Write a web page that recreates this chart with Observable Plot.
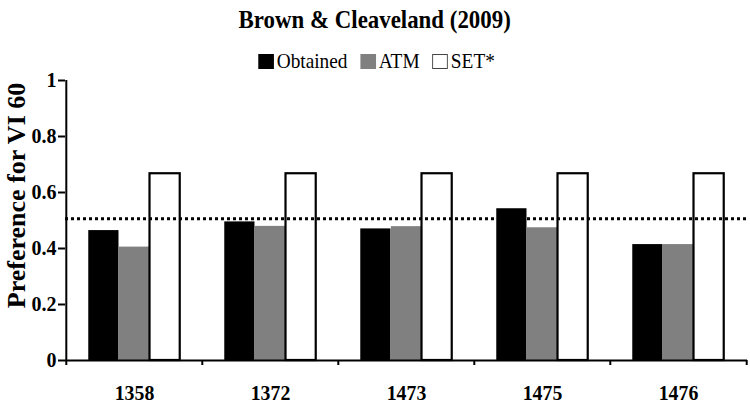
<!DOCTYPE html>
<html>
<head>
<meta charset="utf-8">
<script src="https://cdn.jsdelivr.net/npm/d3@7"></script>
<script src="https://cdn.jsdelivr.net/npm/@observablehq/plot@0.6"></script>
<style>
  html, body { margin: 0; padding: 0; background: #fff; }
  #wrap { width: 750px; height: 405px; position: relative; overflow: hidden; font-family: "Liberation Serif", "Times New Roman", serif; }
  #title { height: 40px; box-sizing: border-box; padding-top: 6px; text-align: center; font-weight: bold; font-size: 26px; line-height: 28px; color: #000; }
  #title span { display: inline-block; transform: scaleX(0.88); transform-origin: center; }
  #legend { height: 32px; margin-bottom: -8px; position: relative; z-index: 1; display: flex; justify-content: center; align-items: flex-end; font-size: 21px; line-height: 21px; color: #000; padding-left: 4px; box-sizing: border-box; }
  #legend .inner { display: flex; align-items: flex-end; gap: 14px; transform: scaleX(0.92); transform-origin: center; }
  #legend .item { display: flex; align-items: flex-end; gap: 3px; }
  #legend .sw { width: 17px; height: 15px; box-sizing: border-box; margin-bottom: 3px; }
  #chart svg { display: block; }
  #chart svg text { font-family: "Liberation Serif", "Times New Roman", serif; font-weight: bold; fill: #000; }
  #chart g[aria-label="y-axis tick label"] text { font-size: 20px; }
  #chart g[aria-label="x-axis tick label"] text { font-size: 22px; }
  #chart g[aria-label="y-axis tick"] path, #chart g[aria-label="x-axis tick"] path { stroke-width: 2px; }
</style>
</head>
<body>
<div id="wrap">
  <div id="title"><span>Brown &amp; Cleaveland (2009)</span></div>
  <div id="legend"><div class="inner"></div></div>
  <div id="chart"></div>
</div>
<script>
// Subjects (x categories) and the three preference series
const subjects = ["1358", "1372", "1473", "1475", "1476"];
const obtained = [0.464, 0.495, 0.470, 0.542, 0.414];
const atm      = [0.405, 0.479, 0.478, 0.474, 0.414];
const setStar  = [0.667, 0.667, 0.667, 0.667, 0.667];
const seriesNames = ["Obtained", "ATM", "SET*"];
const indifference = 0.506;
const yTicks = [0, 0.2, 0.4, 0.6, 0.8, 1];
const yLabel = "Preference for VI 60";

const seriesStyle = {
  "Obtained": {fill: "#000000", stroke: null},
  "ATM":      {fill: "#808080", stroke: null},
  "SET*":     {fill: "#ffffff", stroke: "#000000"}
};

// Long-format table built from the series arrays
const values = [obtained, atm, setStar];
const data = [];
seriesNames.forEach((s, i) => subjects.forEach((subj, j) => data.push({subject: subj, series: s, value: values[i][j]})));

// Legend
const legend = document.querySelector("#legend .inner");
seriesNames.forEach(s => {
  const item = document.createElement("div");
  item.className = "item";
  const sw = document.createElement("div");
  sw.className = "sw";
  sw.style.background = seriesStyle[s].fill;
  sw.style.border = seriesStyle[s].stroke ? "1px solid #444" : "none";
  const label = document.createElement("span");
  label.textContent = s;
  item.append(sw, label);
  legend.append(item);
});

// Layout
const width = 750, height = 341;
const marginLeft = 65, marginRight = 3, marginTop = 16, marginBottom = 45;
const step = (width - marginLeft - marginRight) / subjects.length;
const barW = step * 0.2245;

const barMarks = seriesNames.map((s, i) => {
  const off = (i - 1) * barW;
  const side = (step - barW) / 2;
  return Plot.barY(data.filter(d => d.series === s), {
    x: "subject", y: "value",
    fill: seriesStyle[s].fill,
    stroke: seriesStyle[s].stroke,
    strokeWidth: seriesStyle[s].stroke ? 2.2 : 0,
    insetLeft: side + off, insetRight: side - off
  });
});

const chart = Plot.plot({
  width, height, marginLeft, marginRight, marginTop, marginBottom,
  x: {type: "band", domain: subjects, padding: 0},
  y: {domain: [0, 1]},
  marks: [
    ...barMarks,
    Plot.ruleY([indifference], {stroke: "#000", strokeWidth: 3, strokeDasharray: "3,3"}),
    // subject labels
    Plot.axisX({ticks: subjects, tickSize: 0, tickPadding: 24, label: null}),
    // tick marks on the boundaries between subjects
    Plot.axisX({ticks: subjects, tickSize: 5, tickFormat: () => "", dx: -step / 2, label: null}),
    Plot.axisX({ticks: subjects.slice(-1), tickSize: 5, tickFormat: () => "", dx: step / 2, label: null}),
    Plot.axisY({ticks: yTicks, tickFormat: d => String(d), tickSize: 7, tickPadding: 2, label: null}),
    Plot.ruleX(subjects.slice(0, 1), {dx: -step / 2, stroke: "#000", strokeWidth: 2}),
    Plot.ruleY([0], {stroke: "#000", strokeWidth: 2}),
    Plot.text([yLabel], {frameAnchor: "left", textAnchor: "middle", rotate: -90, dx: -49, dy: -25, fontSize: 26, fontWeight: "bold", text: d => d})
  ]
});

// slightly narrower subject labels
chart.querySelectorAll('g[aria-label="x-axis tick label"] text').forEach(t => {
  const x = +t.getAttribute("x") || 0, y = +t.getAttribute("y") || 0;
  const tr = t.getAttribute("transform") || "";
  t.setAttribute("transform", `${tr} translate(${x},${y}) scale(0.9,1) translate(${-x},${-y})`);
});
document.getElementById("chart").append(chart);
</script>
</body>
</html>
